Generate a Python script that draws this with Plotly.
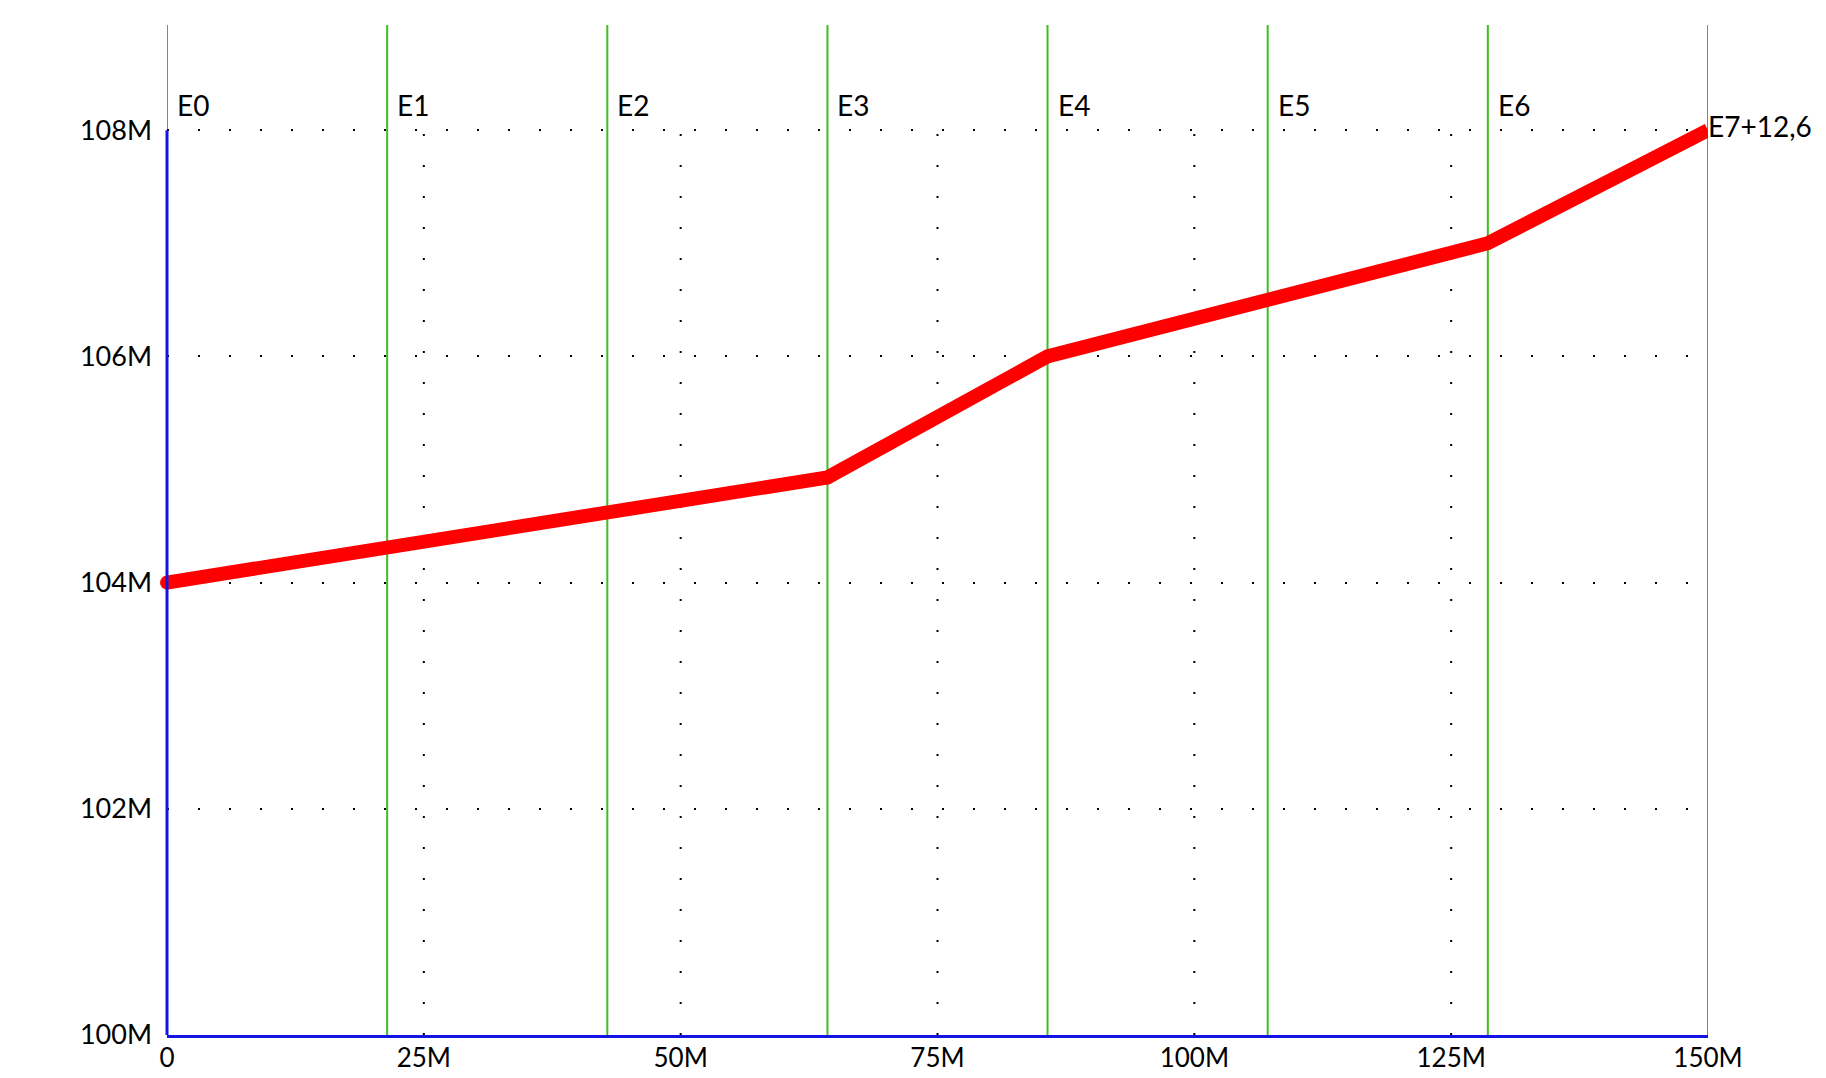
import plotly.graph_objects as go

# ---- data ----
x_positions = [0, 21.43e6, 42.86e6, 64.29e6, 85.71e6, 107.14e6, 128.57e6, 150e6]
y_values = [104.0e6, 104.31e6, 104.62e6, 104.93e6, 106.0e6, 106.5e6, 107.0e6, 108.0e6]
marker_labels = ["E0", "E1", "E2", "E3", "E4", "E5", "E6"]
end_label = "E7+12,6"
x_tickvals = [0, 25e6, 50e6, 75e6, 100e6, 125e6, 150e6]
x_ticktext = ["0", "25M", "50M", "75M", "100M", "125M", "150M"]
y_tickvals = [100e6, 102e6, 104e6, 106e6, 108e6]
y_ticktext = ["100M", "102M", "104M", "106M", "108M"]

FONT = "Lato"
RED = "#ff0000"
BLUE = "#1414e6"
GREEN = "#3cbf1e"
DOTS = "2px,29px"

fig = go.Figure()

point_text = [""] * (len(x_positions) - 1) + [end_label]
fig.add_trace(go.Scatter(
    x=x_positions, y=y_values, mode="lines+text",
    line=dict(color=RED, width=14),
    text=point_text, textposition="middle right",
    textfont=dict(family=FONT, size=28, color="black"),
    cliponaxis=False, showlegend=False, hoverinfo="skip",
))
# round start cap
fig.add_trace(go.Scatter(
    x=x_positions[:1], y=y_values[:1], mode="markers",
    marker=dict(color=RED, size=14), cliponaxis=False,
    showlegend=False, hoverinfo="skip",
))

shapes = []
# vertical dotted grid lines, spanning the y tick range
for xv in x_tickvals[1:-1]:
    shapes.append(dict(type="line", xref="x", yref="y", x0=xv, x1=xv,
                       y0=y_tickvals[0], y1=y_tickvals[-1],
                       line=dict(color="black", width=2, dash=DOTS), layer="below"))
for xp in x_positions:
    shapes.append(dict(type="line", xref="x", yref="paper", x0=xp, x1=xp, y0=0, y1=1,
                       line=dict(color=GREEN, width=2), layer="below"))
# blue vertical axis line spanning the tick range
shapes.append(dict(type="line", xref="paper", yref="y", x0=0, x1=0,
                   y0=y_tickvals[0], y1=y_tickvals[-1],
                   line=dict(color=BLUE, width=3), layer="above"))

annotations = []
for xp, lab in zip(x_positions, marker_labels):
    annotations.append(dict(x=xp, y=108.22e6, xref="x", yref="y", text=lab,
                            showarrow=False, xanchor="left", yanchor="middle", xshift=8,
                            font=dict(family=FONT, size=28, color="black")))

fig.update_layout(
    width=1826, height=1078,
    margin=dict(l=167, r=118, t=25, b=43, autoexpand=False),
    paper_bgcolor="white", plot_bgcolor="white",
    shapes=shapes, annotations=annotations,
    showlegend=False,
    font=dict(family=FONT, color="black"),
)
fig.update_xaxes(
    range=[0, 150e6], tickvals=x_tickvals, ticktext=x_ticktext,
    showline=True, linecolor=BLUE, linewidth=3, ticks="",
    showgrid=False, automargin=False,
    zeroline=False, tickfont=dict(family=FONT, size=26, color="black"),
    ticklabelstandoff=-2,
)
fig.update_yaxes(
    range=[100e6, 108.93e6], tickvals=y_tickvals, ticktext=y_ticktext,
    showline=False, ticks="", automargin=False,
    showgrid=True, gridcolor="black", gridwidth=2, griddash=DOTS,
    zeroline=False, tickfont=dict(family=FONT, size=27, color="black"),
    ticklabelstandoff=14,
)

fig.write_html(
    "out.html",
    config={"displayModeBar": False},
    post_script="document.body.style.margin='0';document.body.style.overflow='hidden';",
)
